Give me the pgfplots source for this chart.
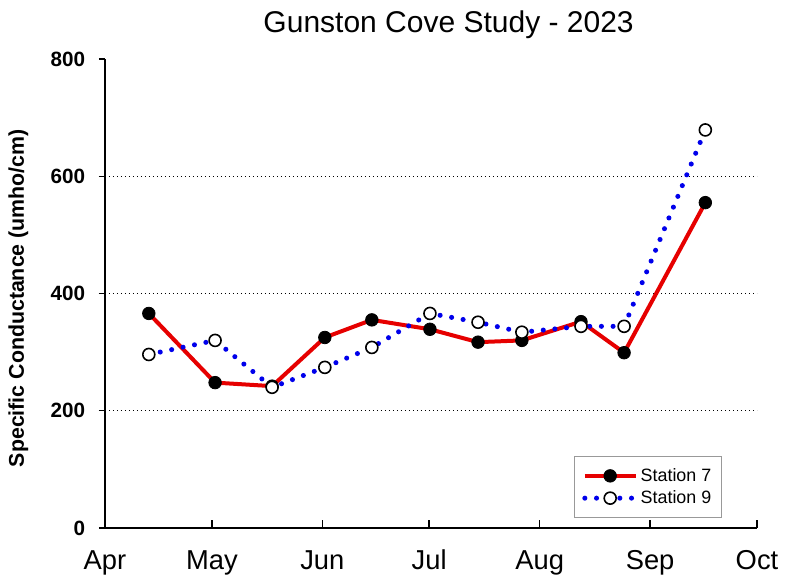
\documentclass[border=0pt]{standalone}
\usepackage{pgfplots}
\pgfplotsset{compat=1.18}
\usepackage{fontspec}
\setmainfont{Liberation Sans}
\definecolor{sred}{RGB}{230,0,0}
\definecolor{sblue}{RGB}{0,0,235}
\begin{document}
\begin{tikzpicture}
\useasboundingbox (-78.75pt,-36pt) rectangle (513pt,396pt);
\begin{axis}[
  scale only axis,
  width=489pt, height=351.75pt,
  xmin=0, xmax=183, ymin=0, ymax=800,
  axis x line*=bottom, axis y line*=left,
  axis line style={-, line width=1.3pt},
  xtick={0,30,61,91,122,153,183},
  xticklabels={Apr,May,Jun,Jul,Aug,Sep,Oct},
  ytick={0,200,400,600,800},
  xtick align=inside, ytick align=outside,
  xtick style={line width=1.1pt, black, /pgfplots/major tick length=6pt},
  ytick style={line width=1.1pt, black, /pgfplots/major tick length=4.5pt},
  /pgf/number format/assume math mode=true,
  xticklabel style={font=\fontsize{20.5}{22}\selectfont, anchor=base, yshift=-31pt},
  yticklabel style={font=\fontsize{15.5}{17}\selectfont\bfseries, anchor=east, inner sep=0pt, xshift=-10.5pt},
  extra y ticks={200,400,600},
  extra y tick labels={},
  extra y tick style={grid=major, major tick length=0pt},
  grid style={black, line width=0.8pt, dash pattern=on 0.8pt off 2.2pt},
  title={Gunston Cove Study - 2023},
  title style={at={(axis description cs:0.527,1.055)}, anchor=center, font=\fontsize{22.5}{24}\selectfont},
  ylabel={Specific Conductance (umho/cm)},
  ylabel style={at={(axis description cs:-0.133,0.49)}, anchor=center, rotate=0, font=\fontsize{16}{18}\selectfont\bfseries},
  legend style={at={(axis description cs:0.947,0.021)}, anchor=south east, draw=gray!80, line width=0.8pt,
    font=\fontsize{13.4}{15}\selectfont, inner xsep=6pt, inner ysep=7pt, row sep=1.5pt,
    cells={anchor=west}},
  legend image code/.code={\draw[#1, mark repeat=2, mark phase=2] plot coordinates {(0pt,0pt) (19pt,0pt) (38pt,0pt)};},
  clip=false,
]
\addplot[sred, line width=3pt, mark=*, mark size=4.7pt, mark options={solid, fill=black, draw=black, line width=0.6pt}]
coordinates {(12.3,366) (30.9,248) (46.9,242) (61.7,325) (74.9,355) (91.2,339) (104.7,317) (117.0,320) (133.6,352) (145.7,299) (168.5,555)};
\addlegendentry{Station 7}
\addplot[sblue, line width=3.8pt, line cap=round, dash pattern=on 0pt off 8.75pt, mark=*, mark size=4.5pt, mark options={solid, fill=white, draw=black, line width=1.2pt}]
coordinates {(12.3,296) (30.9,320) (46.9,240) (61.7,274) (74.9,308) (91.2,366) (104.7,351) (117.0,334) (133.6,344) (145.7,344) (168.5,679)};
\addlegendentry{Station 9}
\end{axis}
\end{tikzpicture}
\end{document}
